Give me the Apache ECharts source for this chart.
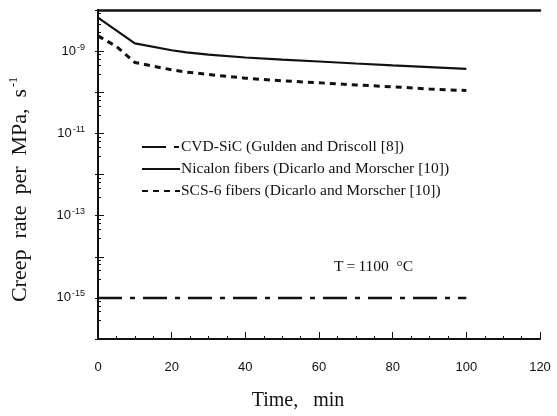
<!DOCTYPE html>
<html>
<head>
<meta charset="utf-8">
<script src="https://cdn.jsdelivr.net/npm/echarts@6/dist/echarts.min.js"></script>
<style>
html,body{margin:0;padding:0;background:#fff;}
#c{width:557px;height:416px;}
</style>
</head>
<body>
<div id="c"></div>
<script>
// ---- data ----
var seriesNames = [
  'CVD-SiC (Gulden and Driscoll [8])',
  'Nicalon fibers (Dicarlo and Morscher [10])',
  'SCS-6 fibers (Dicarlo and Morscher [10])'
];
var cvdTime = [0, 100];
var cvdRate = [1e-15, 1e-15];
var nicalonTime = [0, 10, 20, 24, 30, 40, 50, 60, 70, 80, 90, 100];
var nicalonRate = [6.5e-9, 1.55e-9, 1.05e-9, 9.3e-10, 8.2e-10, 7.0e-10, 6.2e-10, 5.6e-10, 5.0e-10, 4.5e-10, 4.1e-10, 3.7e-10];
var scsTime = [0, 5, 10, 20, 24, 30, 40, 50, 60, 70, 80, 90, 100];
var scsRate = [2.35e-9, 1.3e-9, 5.3e-10, 3.5e-10, 3.1e-10, 2.7e-10, 2.2e-10, 1.9e-10, 1.7e-10, 1.5e-10, 1.36e-10, 1.2e-10, 1.1e-10];
var xTicks = [0, 20, 40, 60, 80, 100, 120];
var yLabelExponents = [-15, -13, -11, -9];
var annotation = 'T\u2009=\u20091100  \u00B0C';

function pairs(xs, ys) { return xs.map(function (x, i) { return [x, ys[i]]; }); }

var serif = '"Liberation Serif", "Times New Roman", serif';
var sans = '"Liberation Sans", Arial, sans-serif';

var chart = echarts.init(document.getElementById('c'), null, {renderer: 'canvas'});
var option = {
  animation: false,
  backgroundColor: '#fff',
  grid: {left: 97, top: 10, right: 17, bottom: 76, containLabel: false},
  legend: {
    orient: 'vertical',
    left: 136, top: 134,
    itemWidth: 38, itemHeight: 10, itemGap: 6,
    itemStyle: {opacity: 0},
    textStyle: {fontFamily: serif, fontSize: 15.5, color: '#111', padding: [0,0,0,-4]},
    data: seriesNames
  },
  xAxis: [{
    type: 'value', min: 0, max: 120, interval: 20,
    axisLine: {show: true, onZero: false, lineStyle: {color: '#111', width: 2}},
    axisTick: {inside: true, length: 7, lineStyle: {color: '#111', width: 1}},
    minorTick: {show: true, splitNumber: 4, length: 3, lineStyle: {color: '#111'}},
    splitLine: {show: false},
    axisLabel: {margin: 22, fontFamily: sans, fontSize: 13, color: '#111',
      formatter: function (v) { return xTicks.indexOf(v) >= 0 ? String(v) : ''; }},
    name: 'Time,   min', nameLocation: 'middle', nameGap: 52,
    nameTextStyle: {fontFamily: serif, fontSize: 20, color: '#111', padding: [0, 42, 0, 0]}
  }, {
    type: 'value', min: 0, max: 120, interval: 20, position: 'top',
    axisLine: {show: true, lineStyle: {color: '#111', width: 2.5}},
    axisTick: {show: false}, axisLabel: {show: false}, splitLine: {show: false}
  }],
  yAxis: [{
    type: 'log', logBase: 10, min: 1e-16, max: 1e-8,
    axisLine: {show: true, lineStyle: {color: '#111', width: 2}},
    axisTick: {inside: true, length: 6, lineStyle: {color: '#111', width: 1}},
    minorTick: {show: true, splitNumber: 5, length: 3, lineStyle: {color: '#111'}},
    splitLine: {show: false},
    axisLabel: {
      margin: 13, color: '#111',
      formatter: function (v) {
        var e = Math.round(Math.log10(v));
        if (yLabelExponents.indexOf(e) < 0) return '';
        return '{b|10}{s|' + e + '}';
      },
      rich: {
        b: {fontFamily: sans, fontSize: 13, color: '#111'},
        s: {fontFamily: sans, fontSize: 9, color: '#111', verticalAlign: 'bottom', padding: [0, 0, 8, 1]}
      }
    },
    name: '{t|Creep  rate  per  MPa,  s}{s|-1}', nameLocation: 'middle', nameGap: 66, nameRotate: 90,
    nameTextStyle: {
      padding: [0, 30, 0, 0],
      rich: {
        t: {fontFamily: serif, fontSize: 22, color: '#111'},
        s: {fontFamily: serif, fontSize: 12, color: '#111', verticalAlign: 'bottom', padding: [0, 0, 12, 2]}
      }
    }
  }, {
    type: 'log', logBase: 10, min: 1e-16, max: 1e-8, position: 'right',
    axisLine: {show: true, lineStyle: {color: '#111', width: 1.5}},
    axisTick: {inside: true, length: 3, lineStyle: {color: '#111'}},
    axisLabel: {show: false}, splitLine: {show: false}
  }],
  graphic: [{
    type: 'text', left: 334, top: 259,
    style: {text: annotation, font: '15.5px ' + serif, fill: '#111'}
  }],
  series: [{
    name: seriesNames[0], type: 'line', showSymbol: false, symbol: 'none',
    data: pairs(cvdTime, cvdRate),
    lineStyle: {color: '#111', width: 2.5, type: [24, 8, 5, 8]},
    itemStyle: {color: '#111'}
  }, {
    name: seriesNames[1], type: 'line', showSymbol: false, symbol: 'none',
    data: pairs(nicalonTime, nicalonRate), smooth: false,
    lineStyle: {color: '#111', width: 2.2, type: 'solid'},
    itemStyle: {color: '#111'}
  }, {
    name: seriesNames[2], type: 'line', showSymbol: false, symbol: 'none',
    data: pairs(scsTime, scsRate),
    lineStyle: {color: '#111', width: 3, type: [6, 5]},
    itemStyle: {color: '#111'}
  }]
};
chart.setOption(option);
</script>
</body>
</html>
